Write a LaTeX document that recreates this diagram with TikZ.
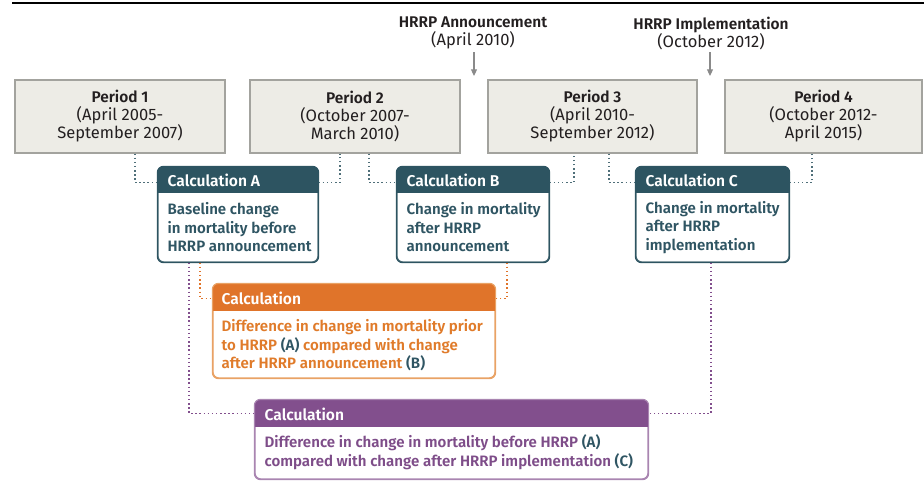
\documentclass[tikz,border=0pt]{standalone}
\usepackage{fontspec}
\setmainfont{Fira Sans}[BoldFont={Fira Sans SemiBold}]
\usetikzlibrary{calc,arrows.meta}
\definecolor{tealH}{HTML}{2D5461}
\definecolor{tealT}{HTML}{2F5563}
\definecolor{tealB}{HTML}{4F6F79}
\definecolor{perFill}{HTML}{EDECE6}
\definecolor{perDraw}{HTML}{A3A39E}
\definecolor{perText}{HTML}{231F20}
\definecolor{orH}{HTML}{E0742A}
\definecolor{orT}{HTML}{E07B2A}
\definecolor{orB}{HTML}{E9A265}
\definecolor{puH}{HTML}{824F8D}
\definecolor{puT}{HTML}{7E4D89}
\definecolor{puB}{HTML}{A985B1}
\definecolor{arrG}{HTML}{8A8A8A}
\newcommand\ttl[1]{{\fontsize{11.6pt}{13.5pt}\selectfont\bfseries #1}}
\tikzset{
  txt/.style={font=\fontsize{12.4pt}{13.5pt}\selectfont, inner sep=0pt},
  perbox/.style={txt, draw=perDraw, fill=perFill, line width=0.8pt, text=perText, align=center, minimum height=73*0.75pt},
  calcbox/.style={draw=#1, fill=white, line width=0.9pt, rounded corners=4.5pt, minimum height=95*0.75pt},
  hdrtext/.style={txt, font=\fontsize{11.7pt}{13.5pt}\selectfont\bfseries, text=white, anchor=west},
  bodytext/.style={txt, font=\fontsize{11.3pt}{13.9pt}\selectfont\bfseries, anchor=west, align=left},
  dotT/.style={draw=tealB, line width=1.1pt, dotted},
  dotO/.style={draw=orH, line width=1.1pt, dotted},
  dotP/.style={draw=puH, line width=1.1pt, dotted},
  lbl/.style={txt, align=center, text=perText, inner sep=2pt},
  arr/.style={draw=arrG, line width=0.8pt, -{Triangle[length=5pt,width=4.5pt]}}
}
\begin{document}
\begin{tikzpicture}[x=0.75pt,y=-0.75pt]
\useasboundingbox (0,0) rectangle (924,493);
\coordinate (ruleL) at (12,3);
\coordinate (ruleR) at (924,3);
\draw[line width=1.3pt, black] (ruleL) -- (ruleR);

% top labels
\node[lbl] (ann) at (473,33) {\ttl{HRRP Announcement}\\(April 2010)};
\node[lbl] (imp) at (711,33) {\ttl{HRRP Implementation}\\(October 2012)};
\coordinate (annTip) at (474,76);
\coordinate (impTip) at (710,76);
\draw[arr] (ann.south -| annTip) -- (annTip);
\draw[arr] (imp.south -| impTip) -- (impTip);

% periods
\node[perbox, minimum width=210*0.75pt] (p1) at (120,116.5) {\ttl{Period 1}\\(April 2005-\\September 2007)};
\node[perbox, minimum width=210*0.75pt] (p2) at (355,116.5) {\ttl{Period 2}\\(October 2007-\\March 2010)};
\node[perbox, minimum width=209*0.75pt] (p3) at (592.5,116.5) {\ttl{Period 3}\\(April 2010-\\September 2012)};
\node[perbox, minimum width=197*0.75pt] (p4) at (823.5,116.5) {\ttl{Period 4}\\(October 2012-\\April 2015)};

% calc boxes A B C
\node[calcbox=tealB, minimum width=160*0.75pt] (calcA) at (238,214.5) {};
\node[calcbox=tealB, minimum width=152*0.75pt] (calcB) at (473,214.5) {};
\node[calcbox=tealB, minimum width=153*0.75pt] (calcC) at (712.5,214.5) {};
\foreach \c in {calcA,calcB,calcC}{
  \begin{scope}
    \clip[rounded corners=4.5pt] (\c.north west) rectangle (\c.south east);
    \fill[tealH] (\c.north west) rectangle ($(\c.north east)+(0,27)$);
  \end{scope}
  \draw[tealH, line width=0.9pt, rounded corners=4.5pt] (\c.north west) rectangle (\c.south east);
}
\node[hdrtext] (calcAh) at ($(calcA.north west)+(10,14)$) {Calculation A};
\node[hdrtext] (calcBh) at ($(calcB.north west)+(10,14)$) {Calculation B};
\node[hdrtext] (calcCh) at ($(calcC.north west)+(10,14)$) {Calculation C};
\node[bodytext, text=tealT] (calcAb) at ($(calcA.north west)+(10,61)$) {Baseline change\\in mortality before\\HRRP announcement};
\node[bodytext, text=tealT] (calcBb) at ($(calcB.north west)+(10,61)$) {Change in mortality\\after HRRP\\announcement};
\node[bodytext, text=tealT] (calcCb) at ($(calcC.north west)+(10,61)$) {Change in mortality\\after HRRP\\implementation};

% orange box
\node[calcbox=orB, minimum width=282*0.75pt, minimum height=94*0.75pt] (calcO) at (354,331) {};
\begin{scope}
  \clip[rounded corners=4.5pt] (calcO.north west) rectangle (calcO.south east);
  \fill[orH] (calcO.north west) rectangle ($(calcO.north east)+(0,28)$);
\end{scope}
\draw[orB, line width=0.9pt, rounded corners=4.5pt] (calcO.north west) rectangle (calcO.south east);
\node[hdrtext] (calcOh) at ($(calcO.north west)+(9,15)$) {Calculation};
\node[bodytext, text=orT] (calcOb) at ($(calcO.north west)+(9,62)$) {Difference in change in mortality prior\\to HRRP \textcolor{tealT}{(A)} compared with change\\after HRRP announcement \textcolor{tealT}{(B)}};

% purple box
\node[calcbox=puB, minimum width=393*0.75pt, minimum height=79*0.75pt] (calcP) at (451.5,439.5) {};
\begin{scope}
  \clip[rounded corners=4.5pt] (calcP.north west) rectangle (calcP.south east);
  \fill[puH] (calcP.north west) rectangle ($(calcP.north east)+(0,28)$);
\end{scope}
\draw[puB, line width=0.9pt, rounded corners=4.5pt] (calcP.north west) rectangle (calcP.south east);
\node[hdrtext] (calcPh) at ($(calcP.north west)+(10,15)$) {Calculation};
\node[bodytext, text=puT] (calcPb) at ($(calcP.north west)+(10,53)$) {Difference in change in mortality before HRRP \textcolor{tealT}{(A)}\\compared with change after HRRP implementation \textcolor{tealT}{(C)}};

% dotted connectors (teal)
\draw[dotT] ($(p1.south)+(15,0)$) |- ($(calcA.north west)+(0,16)$);
\draw[dotT] ($(calcA.north east)+(0,16)$) -| ($(p2.south)+(-15,0)$);
\draw[dotT] ($(p2.south)+(14,0)$) |- ($(calcB.north west)+(0,16)$);
\draw[dotT] ($(calcB.north east)+(0,16)$) -| ($(p3.south)+(-18.5,0)$);
\draw[dotT] ($(p3.south)+(16.5,0)$) |- ($(calcC.north west)+(0,16)$);
\draw[dotT] ($(calcC.north east)+(0,16)$) -| ($(p4.south)+(-11.5,0)$);
% orange
\draw[dotO] ($(calcA.south)+(-38,0)$) |- ($(calcO.north west)+(0,15)$);
\draw[dotO] ($(calcB.south)+(34,0)$) |- ($(calcO.north east)+(0,15)$);
% purple
\draw[dotP] ($(calcA.south)+(-49,0)$) |- ($(calcP.north west)+(0,14)$);
\draw[dotP] ($(calcC.south)+(-1.5,0)$) |- ($(calcP.north east)+(0,14)$);
\end{tikzpicture}
\end{document}
